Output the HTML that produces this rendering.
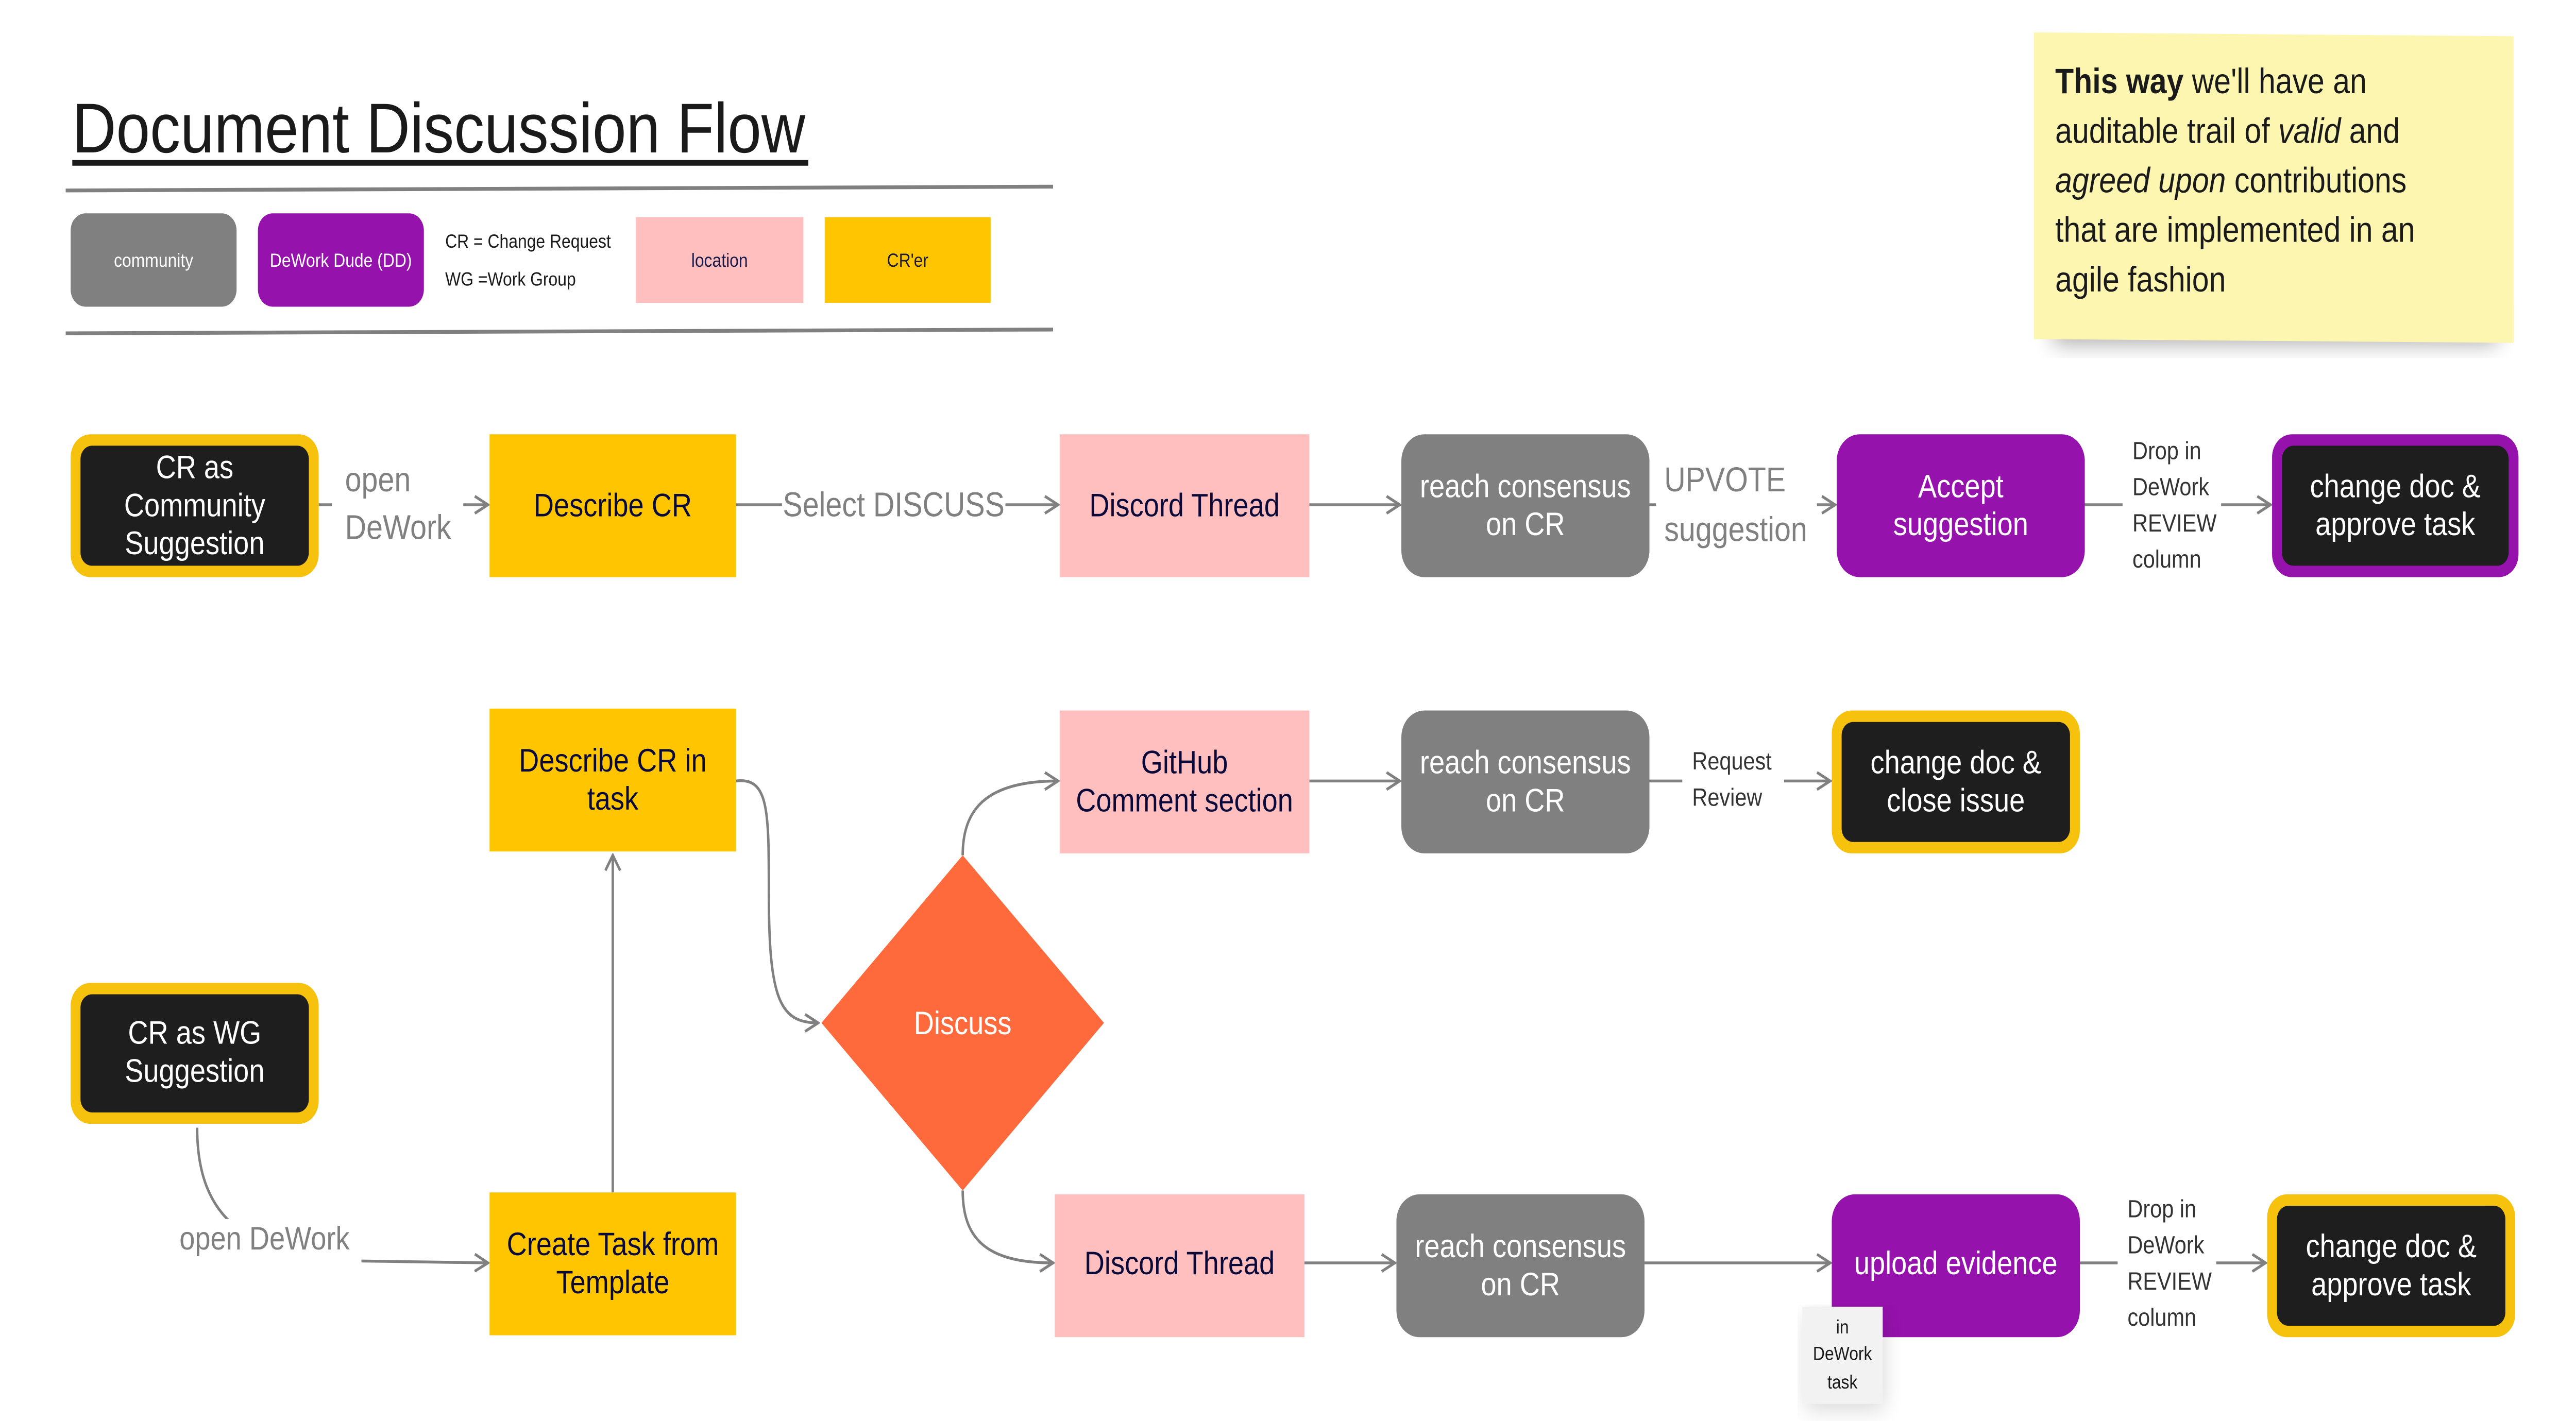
<!DOCTYPE html>
<html><head><meta charset="utf-8">
<style>
html,body{margin:0;padding:0;background:#fff;overflow:hidden;width:100%;height:100%;}
svg{display:block;width:100vw;height:100vh;}
text{font-family:"Liberation Sans",sans-serif;}
</style></head>
<body>
<svg viewBox="0 0 1568 746" preserveAspectRatio="none" xmlns="http://www.w3.org/2000/svg">
<defs>
<marker id="ar" markerWidth="10" markerHeight="10" refX="9" refY="5" orient="auto" markerUnits="userSpaceOnUse">
<path d="M1,0.5 L9,5 L1,9.5" fill="none" stroke="#808080" stroke-width="1.5"/>
</marker>
<filter id="sh" x="-10%" y="-10%" width="130%" height="150%">
<feGaussianBlur stdDeviation="6"/>
</filter>
</defs>
<rect width="1568" height="746" fill="#fff"/>

<text x="44" y="80" font-size="37" fill="#1a1a1a">Document Discussion Flow</text>
<rect x="44" y="84" width="448" height="3" fill="#1a1a1a"/>
<line x1="40" y1="100" x2="641" y2="98" stroke="#808080" stroke-width="2"/>
<line x1="40" y1="175" x2="641" y2="173" stroke="#808080" stroke-width="2"/>

<rect x="43" y="112" width="101" height="49" rx="9" fill="#808080"/>
<text x="93.5" y="140" font-size="10" fill="#fff" text-anchor="middle">community</text>
<rect x="157" y="112" width="101" height="49" rx="9" fill="#9512ac"/>
<text x="207.5" y="140" font-size="10" fill="#fff" text-anchor="middle">DeWork Dude (DD)</text>
<text x="271" y="130" font-size="10" fill="#1a1a1a">CR = Change Request</text>
<text x="271" y="150" font-size="10" fill="#1a1a1a">WG =Work Group</text>
<rect x="387" y="114" width="102" height="45" fill="#ffbfbf"/>
<text x="438" y="140" font-size="10" fill="#1a1a4a" text-anchor="middle">location</text>
<rect x="502" y="114" width="101" height="45" fill="#ffc600"/>
<text x="552.5" y="140" font-size="10" fill="#1a1a4a" text-anchor="middle">CR'er</text>

<rect x="1250" y="160" width="270" height="20" fill="#000" opacity="0.35" filter="url(#sh)"/>
<polygon points="1238,17 1530,19 1530,180 1238,178" fill="#fdf6b0"/>
<g font-size="18.5" fill="#1a1a1a">
<text x="1251" y="49"><tspan font-weight="bold">This way</tspan> we'll have an</text>
<text x="1251" y="75">auditable trail of <tspan font-style="italic">valid</tspan> and</text>
<text x="1251" y="101"><tspan font-style="italic">agreed upon</tspan> contributions</text>
<text x="1251" y="127">that are implemented in an</text>
<text x="1251" y="153">agile fashion</text>
</g>

<g stroke="#808080" stroke-width="1.5" fill="none">
<line x1="194" y1="265" x2="297" y2="265" marker-end="url(#ar)"/>
<line x1="448" y1="265" x2="644" y2="265" marker-end="url(#ar)"/>
<line x1="797" y1="265" x2="852" y2="265" marker-end="url(#ar)"/>
<line x1="1004" y1="265" x2="1117" y2="265" marker-end="url(#ar)"/>
<line x1="1269" y1="265" x2="1382" y2="265" marker-end="url(#ar)"/>
<line x1="797" y1="410" x2="852" y2="410" marker-end="url(#ar)"/>
<line x1="1004" y1="410" x2="1114" y2="410" marker-end="url(#ar)"/>
<line x1="373" y1="626" x2="373" y2="449" marker-end="url(#ar)"/>
<path d="M448,410 C468,408 468,425 468,470 C468,525 475,537 498,537" marker-end="url(#ar)"/>
<path d="M586,449 C586,425 600,410 644,410" marker-end="url(#ar)"/>
<path d="M586,625 C586,650 600,663 641,663" marker-end="url(#ar)"/>
<path d="M120,592 C120,640 150,660 220,662 L297,663" marker-end="url(#ar)"/>
<line x1="794" y1="663" x2="849" y2="663" marker-end="url(#ar)"/>
<line x1="1001" y1="663" x2="1114" y2="663" marker-end="url(#ar)"/>
<line x1="1266" y1="663" x2="1379" y2="663" marker-end="url(#ar)"/>
</g>

<rect x="202" y="240" width="80" height="50" fill="#fff"/>
<text x="210" y="258" font-size="18" fill="#808080">open</text>
<text x="210" y="283" font-size="18" fill="#808080">DeWork</text>
<rect x="476" y="252" width="136" height="26" fill="#fff"/>
<text x="544" y="271" font-size="18" fill="#808080" text-anchor="middle">Select DISCUSS</text>
<rect x="1008" y="240" width="98" height="50" fill="#fff"/>
<text x="1013" y="258" font-size="18" fill="#808080">UPVOTE</text>
<text x="1013" y="284" font-size="18" fill="#808080">suggestion</text>
<rect x="1292" y="228" width="60" height="75" fill="#fff"/>
<g font-size="13" fill="#333">
<text x="1298" y="241">Drop in</text>
<text x="1298" y="260">DeWork</text>
<text x="1298" y="279">REVIEW</text>
<text x="1298" y="298">column</text>
</g>
<rect x="1024" y="390" width="62" height="40" fill="#fff"/>
<text x="1030" y="404" font-size="13" fill="#333">Request</text>
<text x="1030" y="423" font-size="13" fill="#333">Review</text>
<rect x="102" y="640" width="118" height="24" fill="#fff"/>
<text x="161" y="656" font-size="17" fill="#808080" text-anchor="middle">open DeWork</text>
<rect x="1289" y="626" width="60" height="75" fill="#fff"/>
<g font-size="13" fill="#333">
<text x="1295" y="639">Drop in</text>
<text x="1295" y="658">DeWork</text>
<text x="1295" y="677">REVIEW</text>
<text x="1295" y="696">column</text>
</g>

<rect x="43" y="228" width="151" height="75" rx="12" fill="#f7c20e"/>
<rect x="49" y="234" width="139" height="63" rx="7" fill="#1e1e1e"/>
<g font-size="17" fill="#fff" text-anchor="middle">
<text x="118.5" y="251">CR as</text>
<text x="118.5" y="271">Community</text>
<text x="118.5" y="291">Suggestion</text>
</g>
<rect x="298" y="228" width="150" height="75" fill="#ffc600"/>
<text x="373" y="271" font-size="17" fill="#0a0a3a" text-anchor="middle">Describe CR</text>
<rect x="645" y="228" width="152" height="75" fill="#ffbfbf"/>
<text x="721" y="271" font-size="17" fill="#0a0a3a" text-anchor="middle">Discord Thread</text>
<rect x="853" y="228" width="151" height="75" rx="14" fill="#808080"/>
<text x="928.5" y="261" font-size="17" fill="#fff" text-anchor="middle">reach consensus</text>
<text x="928.5" y="281" font-size="17" fill="#fff" text-anchor="middle">on CR</text>
<rect x="1118" y="228" width="151" height="75" rx="14" fill="#9512ac"/>
<text x="1193.5" y="261" font-size="17" fill="#fff" text-anchor="middle">Accept</text>
<text x="1193.5" y="281" font-size="17" fill="#fff" text-anchor="middle">suggestion</text>
<rect x="1383" y="228" width="150" height="75" rx="12" fill="#9512ac"/>
<rect x="1389" y="234" width="138" height="63" rx="7" fill="#1e1e1e"/>
<text x="1458" y="261" font-size="17" fill="#fff" text-anchor="middle">change doc &amp;</text>
<text x="1458" y="281" font-size="17" fill="#fff" text-anchor="middle">approve task</text>

<rect x="298" y="372" width="150" height="75" fill="#ffc600"/>
<text x="373" y="405" font-size="17" fill="#0a0a3a" text-anchor="middle">Describe CR in</text>
<text x="373" y="425" font-size="17" fill="#0a0a3a" text-anchor="middle">task</text>
<rect x="645" y="373" width="152" height="75" fill="#ffbfbf"/>
<text x="721" y="406" font-size="17" fill="#0a0a3a" text-anchor="middle">GitHub</text>
<text x="721" y="426" font-size="17" fill="#0a0a3a" text-anchor="middle">Comment section</text>
<rect x="853" y="373" width="151" height="75" rx="14" fill="#808080"/>
<text x="928.5" y="406" font-size="17" fill="#fff" text-anchor="middle">reach consensus</text>
<text x="928.5" y="426" font-size="17" fill="#fff" text-anchor="middle">on CR</text>
<rect x="1115" y="373" width="151" height="75" rx="12" fill="#f7c20e"/>
<rect x="1121" y="379" width="139" height="63" rx="7" fill="#1e1e1e"/>
<text x="1190.5" y="406" font-size="17" fill="#fff" text-anchor="middle">change doc &amp;</text>
<text x="1190.5" y="426" font-size="17" fill="#fff" text-anchor="middle">close issue</text>

<polygon points="586,449 672,537 586,625 500,537" fill="#ff6a3d"/>
<text x="586" y="543" font-size="17" fill="#fff" text-anchor="middle">Discuss</text>

<rect x="43" y="516" width="151" height="74" rx="12" fill="#f7c20e"/>
<rect x="49" y="522" width="139" height="62" rx="7" fill="#1e1e1e"/>
<text x="118.5" y="548" font-size="17" fill="#fff" text-anchor="middle">CR as WG</text>
<text x="118.5" y="568" font-size="17" fill="#fff" text-anchor="middle">Suggestion</text>
<rect x="298" y="626" width="150" height="75" fill="#ffc600"/>
<text x="373" y="659" font-size="17" fill="#0a0a3a" text-anchor="middle">Create Task from</text>
<text x="373" y="679" font-size="17" fill="#0a0a3a" text-anchor="middle">Template</text>
<rect x="642" y="627" width="152" height="75" fill="#ffbfbf"/>
<text x="718" y="669" font-size="17" fill="#0a0a3a" text-anchor="middle">Discord Thread</text>
<rect x="850" y="627" width="151" height="75" rx="14" fill="#808080"/>
<text x="925.5" y="660" font-size="17" fill="#fff" text-anchor="middle">reach consensus</text>
<text x="925.5" y="680" font-size="17" fill="#fff" text-anchor="middle">on CR</text>
<rect x="1115" y="627" width="151" height="75" rx="14" fill="#9512ac"/>
<text x="1190.5" y="669" font-size="17" fill="#fff" text-anchor="middle">upload evidence</text>
<rect x="1380" y="627" width="151" height="75" rx="12" fill="#f7c20e"/>
<rect x="1386" y="633" width="139" height="63" rx="7" fill="#1e1e1e"/>
<text x="1455.5" y="660" font-size="17" fill="#fff" text-anchor="middle">change doc &amp;</text>
<text x="1455.5" y="680" font-size="17" fill="#fff" text-anchor="middle">approve task</text>

<rect x="1099" y="690" width="48" height="50" fill="#000" opacity="0.15" filter="url(#sh)"/>
<rect x="1097" y="686" width="49" height="51" fill="#f2f2f2"/>
<g font-size="10" fill="#1a1a1a" text-anchor="middle">
<text x="1121.5" y="700">in</text>
<text x="1121.5" y="714">DeWork</text>
<text x="1121.5" y="729">task</text>
</g>
</svg>
</body></html>
